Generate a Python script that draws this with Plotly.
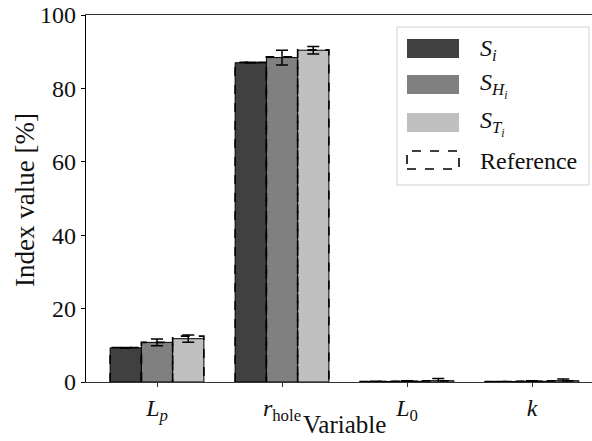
import plotly.graph_objects as go

# ---- data ----
categories = ["<i>L</i><sub><i>p</i></sub>", "<i>r</i><sub>hole</sub>",
              "<i>L</i><sub>0</sub>", "<i>k</i>"]
S_i = [9.3, 87.0, 0.15, 0.12]
S_i_err = [0.1, 0.1, 0.05, 0.05]
S_H = [10.8, 88.4, 0.2, 0.2]
S_H_err = [0.9, 2.0, 0.15, 0.15]
S_T = [11.8, 90.4, 0.35, 0.35]
S_T_err = [1.0, 1.0, 0.6, 0.5]
ref_S_i = [9.4, 87.1, 0.15, 0.12]
ref_S_H = [10.8, 88.6, 0.2, 0.2]
ref_S_T = [12.5, 90.5, 0.3, 0.3]
series_names = ["<i>S</i><sub><i>i</i></sub>", "<i>S</i><sub><i>H</i><sub><i>i</i></sub></sub>",
                "<i>S</i><sub><i>T</i><sub><i>i</i></sub></sub>"]
ref_name = "Reference"
y_ticks = [0, 20, 40, 60, 80, 100]

colors = ["#404040", "#808080", "#c0c0c0"]
FONT = "Liberation Serif"
bw = 0.25

W, H = 592, 441
ml, mr, mt, mb = 86, 0, 15, 59
PW, PH = W - ml - mr, H - mt - mb
px_per = 125.0
x0r = -0.568
x1r = x0r + PW / px_per


def px(xp):
    return (xp - ml) / PW


def py(yp):
    return (H - mb - yp) / PH


x = list(range(len(categories)))
fig = go.Figure()
vals = [S_i, S_H, S_T]
errs = [S_i_err, S_H_err, S_T_err]
refs = [ref_S_i, ref_S_H, ref_S_T]
for j in range(3):
    fig.add_trace(go.Bar(
        x=[xi + (j - 1) * bw for xi in x], y=vals[j], width=bw,
        name=series_names[j], marker=dict(color=colors[j], line=dict(color="black", width=1)),
        error_y=dict(type="data", array=errs[j], color="black", thickness=1.5, width=6),
        showlegend=False,
    ))

# reference dashed outlines
rx, ry = [], []
for j in range(3):
    for i, xi in enumerate(x):
        x0 = xi + (j - 1.5) * bw
        x1 = x0 + bw
        rx += [x0, x0, x1, x1, None]
        ry += [0, refs[j][i], refs[j][i], 0, None]
fig.add_trace(go.Scatter(x=rx, y=ry, mode="lines", name=ref_name, showlegend=False,
                         line=dict(color="black", width=1.6, dash="dash")))

# custom legend (layout decoration)
shapes = [dict(type="rect", xref="paper", yref="paper", x0=px(397), x1=px(589),
               y0=py(185), y1=py(27), line=dict(color="#d0d0d0", width=1),
               fillcolor="rgba(255,255,255,0.8)", layer="above")]
annotations = []
rows = [(39, 58), (75, 94), (113, 132), (151, 169)]
labels = series_names + [ref_name]
for k, (ya, yb) in enumerate(rows):
    if k < 3:
        shapes.append(dict(type="rect", xref="paper", yref="paper", x0=px(407), x1=px(459),
                           y0=py(yb), y1=py(ya), fillcolor=colors[k],
                           line=dict(width=0), layer="above"))
    else:
        shapes.append(dict(type="rect", xref="paper", yref="paper", x0=px(407), x1=px(459),
                           y0=py(yb), y1=py(ya), fillcolor="rgba(0,0,0,0)",
                           line=dict(color="black", width=1.6, dash="dash"), layer="above"))
    annotations.append(dict(xref="paper", yref="paper", x=px(478), y=py((ya + yb) / 2 + 1),
                            xanchor="left", yanchor="middle", showarrow=False,
                            text=labels[k], font=dict(size=24, color="#111")))

# axis titles
annotations.append(dict(xref="paper", yref="paper", x=px(344), y=py(440), xanchor="center",
                        yanchor="bottom", showarrow=False, text="Variable",
                        font=dict(size=25, color="#111")))
annotations.append(dict(xref="paper", yref="paper", x=px(25), y=py(200), xanchor="center",
                        yanchor="middle", showarrow=False, text="Index value [%]", textangle=-90,
                        font=dict(size=27, color="#111")))

fig.update_layout(
    width=W, height=H, margin=dict(l=ml, r=mr, t=mt, b=mb),
    plot_bgcolor="white", paper_bgcolor="white",
    font=dict(family=FONT, size=24, color="#111"),
    barmode="overlay", showlegend=False,
    shapes=shapes, annotations=annotations,
    xaxis=dict(range=[x0r, x1r], tickmode="array", tickvals=x, ticktext=categories,
               showline=True, linecolor="#333", linewidth=1.2, mirror=True,
               ticks="outside", ticklen=4, tickcolor="#333", showgrid=False, zeroline=False,
               automargin=False, ticklabelstandoff=0),
    yaxis=dict(range=[0, 100], tickvals=y_ticks, showline=True, linecolor="black",
               linewidth=1.2, ticks="outside", ticklen=4, tickcolor="black", showgrid=False,
               zeroline=False, automargin=False),
)
fig.write_html("out.html", config={"displayModeBar": False},
               post_script="document.body.style.margin='0px';document.body.style.overflow='hidden';")
